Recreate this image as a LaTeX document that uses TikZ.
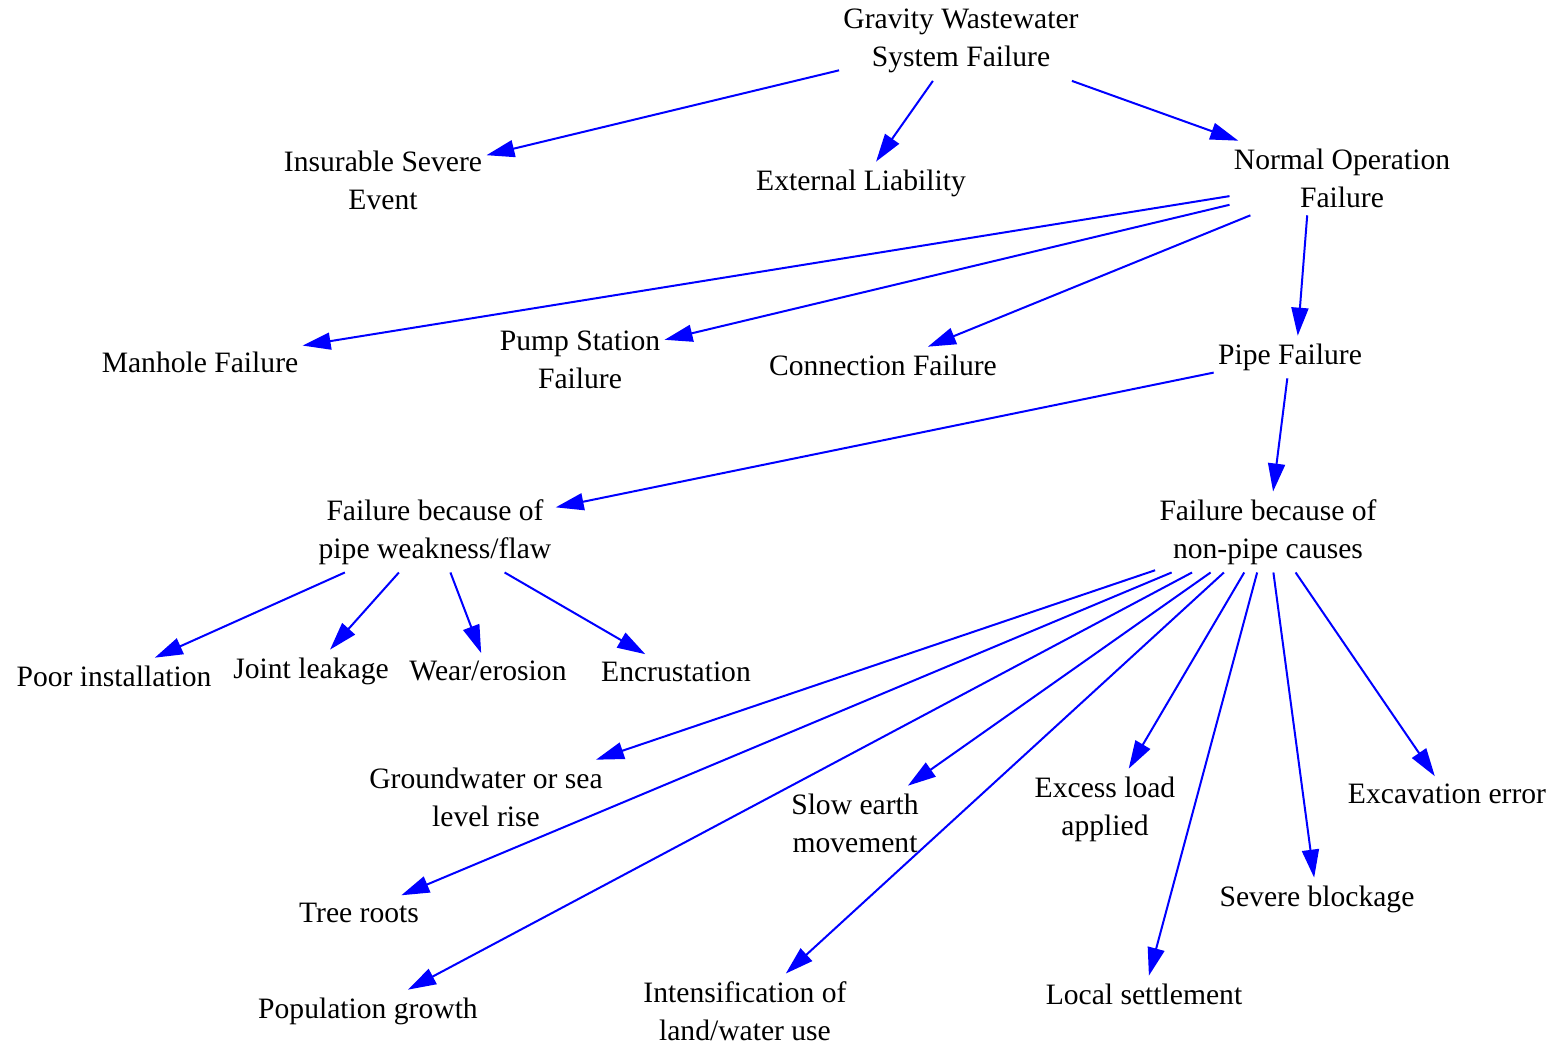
\documentclass[tikz,border=0pt]{standalone}
\usepackage{fontspec}
\setmainfont{Liberation Serif}
\usetikzlibrary{arrows.meta}
\begin{document}
\begin{tikzpicture}[x=0.5pt,y=-0.5pt,
  lbl/.style={rectangle,inner xsep=2pt,inner ysep=3.75pt,align=center,font=\fontsize{14.8}{19}\selectfont},
  arr/.style={draw=blue,line width=1pt,-{Triangle[length=14pt,width=8.5pt,fill=blue]}}]
\useasboundingbox (0,0) rectangle (1555,1045);
\node[lbl] (grav) at (961,41) {Gravity Wastewater\\System Failure};
\node[lbl] (ins) at (383,180) {Insurable Severe\\Event};
\node[lbl] (ext) at (861,183) {External Liability};
\node[lbl] (norm) at (1342,178) {Normal Operation\\Failure};
\node[lbl] (man) at (200,362) {Manhole Failure};
\node[lbl] (pump) at (580,360) {Pump Station\\Failure};
\node[lbl] (conn) at (883,365) {Connection Failure};
\node[lbl] (pipe) at (1290,357) {Pipe Failure};
\node[lbl] (weak) at (435,532) {Failure because of\\pipe weakness/flaw};
\node[lbl] (non) at (1268,532) {Failure because of\\non-pipe causes};
\node[lbl] (poor) at (114,676) {Poor installation};
\node[lbl] (joint) at (311,671) {Joint leakage};
\node[lbl] (wear) at (488,671) {Wear/erosion};
\node[lbl] (enc) at (676,672) {Encrustation};
\node[lbl] (gw) at (486,797) {Groundwater or sea\\level rise};
\node[lbl] (slow) at (855,823) {Slow earth\\movement};
\node[lbl] (exl) at (1105,809) {Excess load\\applied};
\node[lbl] (exc) at (1447,794) {Excavation error};
\node[lbl] (tree) at (359,913) {Tree roots};
\node[lbl] (sev) at (1317,899) {Severe blockage};
\node[lbl] (pop) at (368,1011) {Population growth};
\node[lbl] (intf) at (745,1011) {Intensification of\\land/water use};
\node[lbl] (loc) at (1144,994) {Local settlement};
\draw[arr] (grav) -- (ins);
\draw[arr] (grav) -- (ext);
\draw[arr] (grav) -- (norm);
\draw[arr] (norm) -- (man);
\draw[arr] (norm) -- (pump);
\draw[arr] (norm) -- (conn);
\draw[arr] (norm.227) -- (pipe.70);
\draw[arr] (pipe) -- (weak);
\draw[arr] (pipe) -- (non);
\draw[arr] (weak) -- (poor);
\draw[arr] (weak) -- (joint);
\draw[arr] (weak) -- (wear);
\draw[arr] (weak) -- (enc);
\draw[arr] (non) -- (gw);
\draw[arr] (non) -- (tree);
\draw[arr] (non) -- (pop);
\draw[arr] (non) -- (slow);
\draw[arr] (non) -- (intf);
\draw[arr] (non) -- (exl);
\draw[arr] (non) -- (loc);
\draw[arr] (non) -- (sev);
\draw[arr] (non) -- (exc);
\end{tikzpicture}
\end{document}
